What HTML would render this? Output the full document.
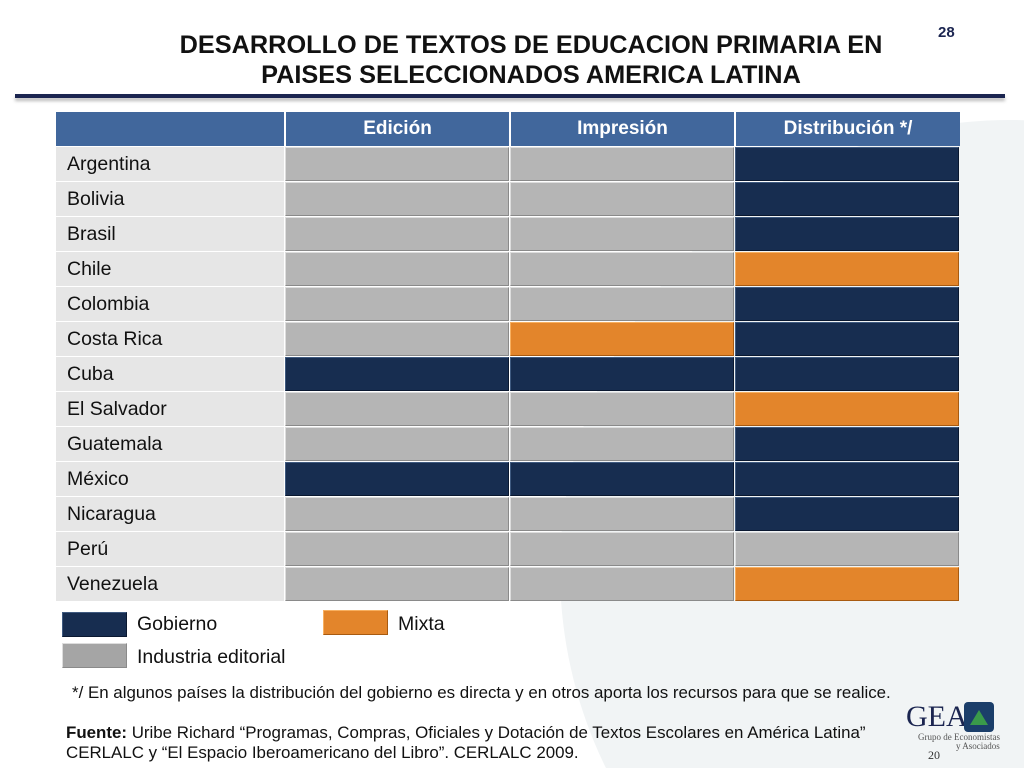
<!DOCTYPE html>
<html style="height:768px;overflow:hidden"><head><meta charset="utf-8"><style>
body{margin:0;width:1024px;height:768px;background:#fff;position:relative;overflow:hidden;font-family:"Liberation Sans",sans-serif;}
.bg{position:absolute;left:560px;top:120px;width:900px;height:900px;border-radius:50%;background:#f1f4f5;}
.t{position:absolute;left:0;width:1062px;text-align:center;font-weight:bold;font-size:25.3px;color:#111;}
.line{position:absolute;left:15px;width:990px;top:94px;height:4px;background:#1b2550;box-shadow:0 3px 3px #bbb;}
.c{position:absolute;box-sizing:border-box;}
.h{background:#41679c;color:#fff;font-weight:bold;font-size:19px;text-align:center;line-height:34px;border-left:2px solid #fff;}
.l{background:#e6e6e6;font-size:19.5px;line-height:34px;padding-left:11px;color:#111;border-bottom:1px solid #fff;}
.G{background:#b5b5b5;border:1px solid #8a8a8a;border-top-color:#ddd;border-left-color:#ddd;}
.N{background:#172d50;border:1px solid #0a1830;border-top-color:#3f5a80;border-left-color:#3f5a80;}
.O{background:#e3852b;border:1px solid #a85a10;border-top-color:#f8b060;border-left-color:#f8b060;}
.tx{position:absolute;font-size:16px;color:#111;white-space:nowrap;}
</style></head><body>
<div class="bg"></div>
<div class="t" style="top:31px">DESARROLLO DE TEXTOS DE EDUCACION PRIMARIA EN</div>
<div class="t" style="top:61px">PAISES SELECCIONADOS AMERICA LATINA</div>
<div class="tx" style="left:938px;top:24px;font-size:15px;font-weight:bold;color:#1b2550">28</div>
<div class="line"></div>
<div class="c h" style="left:56px;top:112px;width:228px;height:34px;border-left:none;"></div>
<div class="c h" style="left:284px;top:112px;width:225px;height:34px;">Edición</div>
<div class="c h" style="left:509px;top:112px;width:225px;height:34px;">Impresión</div>
<div class="c h" style="left:734px;top:112px;width:226px;height:34px;">Distribución */</div>
<div id="rows"></div>
<script>
var d=[["Argentina","GGN"],["Bolivia","GGN"],["Brasil","GGN"],["Chile","GGO"],["Colombia","GGN"],["Costa Rica","GON"],["Cuba","NNN"],["El Salvador","GGO"],["Guatemala","GGN"],["México","NNN"],["Nicaragua","GGN"],["Perú","GGG"],["Venezuela","GGO"]];
var h="",xs=[284,509,734];
d.forEach(function(r,i){var y=147+i*35;
h+='<div class="c l" style="left:56px;top:'+y+'px;width:228px;height:35px">'+r[0]+'</div>';
for(var j=0;j<3;j++)h+='<div class="c '+r[1][j]+'" style="left:'+(xs[j]+1)+'px;top:'+y+'px;width:224px;height:34px"></div>';});
document.getElementById("rows").innerHTML=h;
</script>
<div class="c N" style="left:62px;top:612px;width:65px;height:25px"></div>
<div class="tx" style="left:137px;top:613px;font-size:19.5px">Gobierno</div>
<div class="c O" style="left:323px;top:610px;width:65px;height:25px"></div>
<div class="tx" style="left:398px;top:613px;font-size:19.5px">Mixta</div>
<div class="c G" style="left:62px;top:643px;width:65px;height:25px;background:#a5a5a5"></div>
<div class="tx" style="left:137px;top:646px;font-size:19.5px">Industria editorial</div>
<div class="tx" style="left:72px;top:683px;font-size:16.9px">*/ En algunos países la distribución del gobierno es directa y en otros aporta los recursos para que se realice.</div>
<div class="tx" style="left:66px;top:723px;font-size:16.9px;line-height:20px"><b>Fuente:</b> Uribe Richard “Programas, Compras, Oficiales y Dotación de Textos Escolares en América Latina”<br>CERLALC y “El Espacio Iberoamericano del Libro”. CERLALC 2009.</div>
<div class="tx" style="left:906px;top:700px;font-family:'Liberation Serif',serif;font-size:30px;color:#1b2550">GEA</div>
<div class="c" style="left:964px;top:702px;width:30px;height:30px;background:#1b3e6a;border-radius:4px"></div>
<div class="c" style="left:970px;top:710px;width:0;height:0;border-left:9px solid transparent;border-right:9px solid transparent;border-bottom:15px solid #3a9a4a"></div>
<div class="tx" style="left:918px;top:732px;font-family:'Liberation Serif',serif;font-size:9px;color:#555">Grupo de Economistas</div>
<div class="tx" style="left:956px;top:741px;font-family:'Liberation Serif',serif;font-size:9px;color:#555">y Asociados</div>
<div class="tx" style="left:928px;top:748px;font-family:'Liberation Serif',serif;font-size:12px;color:#333">20</div>
</body></html>
